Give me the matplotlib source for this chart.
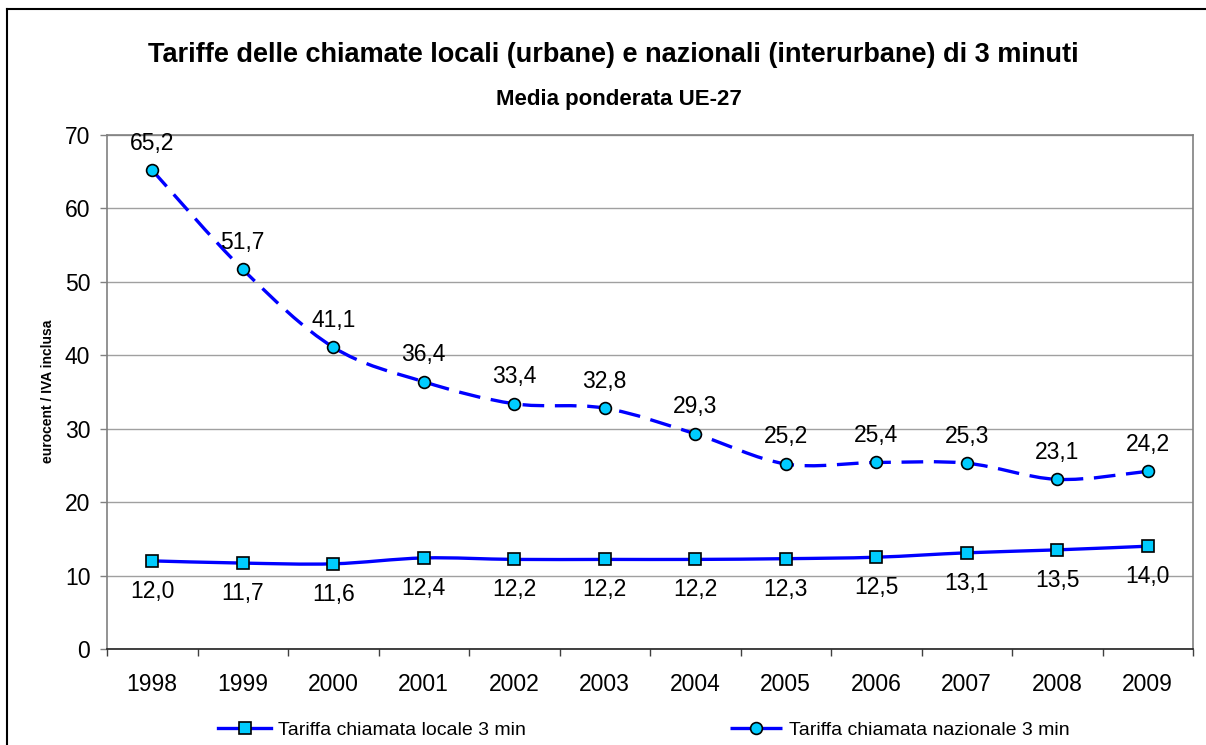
import matplotlib
matplotlib.use("Agg")
import matplotlib.pyplot as plt
from matplotlib.path import Path
from matplotlib.patches import PathPatch
from matplotlib.lines import Line2D
import numpy as np

plt.rcParams['font.family'] = ['Liberation Sans', 'DejaVu Sans']

# data
anni = ['1998', '1999', '2000', '2001', '2002', '2003',
        '2004', '2005', '2006', '2007', '2008', '2009']
locale = [12.0, 11.7, 11.6, 12.4, 12.2, 12.2, 12.2, 12.3, 12.5, 13.1, 13.5, 14.0]
nazionale = [65.2, 51.7, 41.1, 36.4, 33.4, 32.8, 29.3, 25.2, 25.4, 25.3, 23.1, 24.2]

W, H = 1206, 745
fig = plt.figure(figsize=(W / 100, H / 100), dpi=100)

# outer chart border (top and left visible)
fig.add_artist(Line2D([7 / W, 1], [1 - 9 / H, 1 - 9 / H], color='black', lw=1.5))
fig.add_artist(Line2D([7 / W, 7 / W], [1 - 9 / H, 0], color='black', lw=1.5))

ax = fig.add_axes([107 / W, 1 - 649 / H, 1086 / W, 514 / H])

blu = '#0000FF'
ciano = '#00CCFF'
tratteggio = (0, (6.5, 3.2))


def smooth_path(xs, ys):
    # bezier path through the points (excel-like smoothed line)
    pts = np.column_stack([xs, ys]).astype(float)
    verts = [pts[0]]
    codes = [Path.MOVETO]
    n = len(pts)
    for i in range(n - 1):
        p0 = pts[i - 1] if i > 0 else pts[i]
        p1 = pts[i]
        p2 = pts[i + 1]
        p3 = pts[i + 2] if i + 2 < n else pts[i + 1]
        c1 = p1 + (p2 - p0) / 6.0
        c2 = p2 - (p3 - p1) / 6.0
        verts += [c1, c2, p2]
        codes += [Path.CURVE4] * 3
    return Path(verts, codes)


x = np.arange(len(anni))

ax.add_patch(PathPatch(smooth_path(x, nazionale), facecolor='none', edgecolor=blu,
                       lw=2.4, linestyle=tratteggio, zorder=3))
ax.add_patch(PathPatch(smooth_path(x, locale), facecolor='none', edgecolor=blu,
                       lw=2.4, zorder=3))
ax.plot(x, nazionale, linestyle='none', marker='o', ms=8.5, mfc=ciano, mec='black',
        mew=1.2, zorder=4)
ax.plot(x, locale, linestyle='none', marker='s', ms=9, mfc=ciano, mec='black',
        mew=1.2, zorder=4)

for xi, v in zip(x, nazionale):
    ax.annotate(f'{v:.1f}'.replace('.', ','), (xi, v), xytext=(0, 19.5),
                textcoords='offset points', ha='center', va='center', fontsize=16.5)
for xi, v in zip(x, locale):
    ax.annotate(f'{v:.1f}'.replace('.', ','), (xi, v), xytext=(0, -22),
                textcoords='offset points', ha='center', va='center', fontsize=16.5)

ax.set_xlim(-0.5, len(anni) - 0.5)
ax.set_ylim(0, 70)
ax.set_yticks(range(0, 71, 10))
ax.set_xticks(x)
ax.set_xticklabels(anni, fontsize=16.5)
ax.set_xticks(np.arange(-0.5, len(anni), 1), minor=True)
ax.tick_params(axis='x', which='major', length=0, pad=17)
ax.tick_params(axis='x', which='minor', length=5, color='#404040', width=1)
ax.tick_params(axis='y', labelsize=16.5, length=5, color='#808080', width=1, pad=7)
ax.grid(axis='y', color='#A0A0A0', lw=1)
ax.set_axisbelow(True)
for s in ['left', 'right', 'top']:
    ax.spines[s].set_color('#808080')
    ax.spines[s].set_linewidth(1.2)
ax.spines['bottom'].set_color('#202020')
ax.spines['bottom'].set_linewidth(1.2)

fig.text(48 / W, 1 - 391 / H, 'eurocent / IVA inclusa', rotation=90, fontsize=10,
         fontweight='bold', ha='center', va='center')

fig.text(613 / W, 1 - 55 / H,
         'Tariffe delle chiamate locali (urbane) e nazionali (interurbane) di 3 minuti',
         ha='center', va='center', fontsize=19.5, fontweight='bold')
fig.text(619 / W, 1 - 100 / H, 'Media ponderata UE-27', ha='center', va='center',
         fontsize=16, fontweight='bold')

h1 = Line2D([], [], color=blu, lw=2.4, marker='s', ms=9, mfc=ciano, mec='black', mew=1.2)
h2 = Line2D([], [], color=blu, lw=2.4, linestyle=tratteggio, marker='o', ms=8.5,
            mfc=ciano, mec='black', mew=1.2)
fig.legend([h1, h2], ['Tariffa chiamata locale 3 min', 'Tariffa chiamata nazionale 3 min'],
           loc='center', bbox_to_anchor=(644 / W, 1 - 730 / H), ncol=2, frameon=False,
           fontsize=14, handlelength=2.7, handletextpad=0.35, columnspacing=10.5,
           borderpad=0)

fig.savefig('out.png', dpi=100)
